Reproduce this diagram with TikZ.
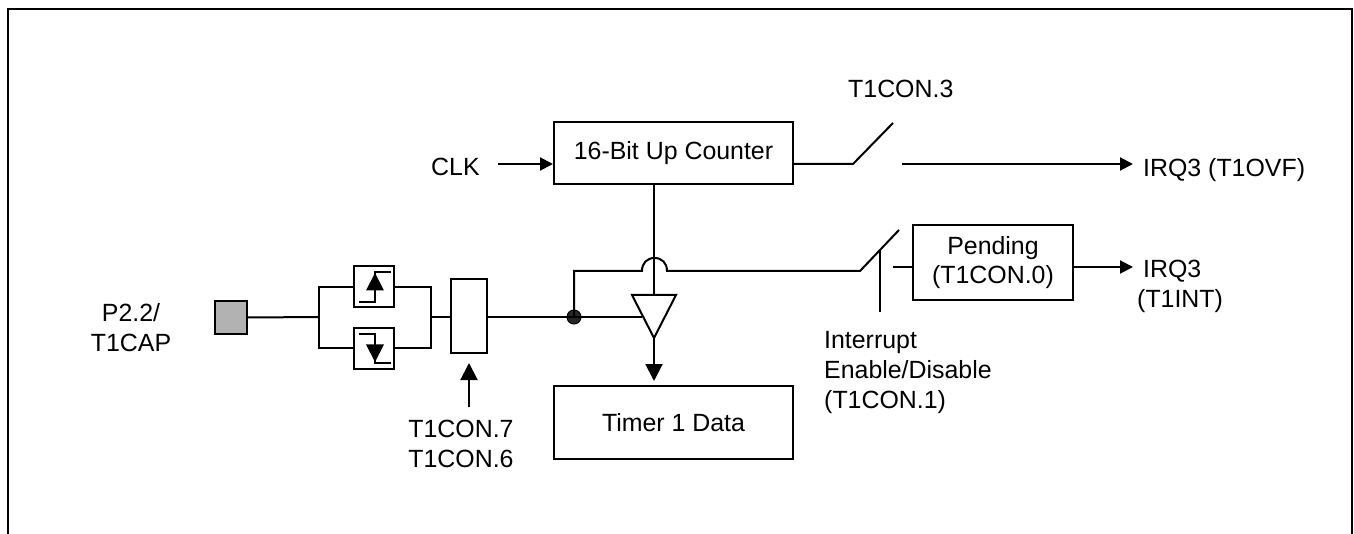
\documentclass[tikz,border=0pt]{standalone}
\usepackage{fontspec}
\setmainfont{Liberation Sans}
\usetikzlibrary{arrows.meta}
\tikzset{
  wire/.style={line width=2pt,line join=miter},
  arr/.style={wire,-{Triangle[length=13pt,width=13pt]}},
  bigarr/.style={wire,-{Triangle[length=17pt,width=17pt]}},
  blk/.style={draw,line width=2pt,inner sep=0pt,align=center,font=\fontsize{24.9}{29.5}\selectfont},
  lbl/.style={inner sep=0pt,align=center,font=\fontsize{24.9}{30}\selectfont},
  lbll/.style={lbl,align=left,anchor=base west},
}
\begin{document}
\begin{tikzpicture}[x=1pt,y=-1pt]
\useasboundingbox (0,0) rectangle (1354,534);
\fill[white] (0,0) rectangle (1354,534);
% frame
\draw[line width=2.6pt,line join=miter] (8,534) -- (8,9) -- (1352,9) -- (1352,534);
% nodes
\node[blk,fill={rgb,255:red,178;green,178;blue,178},minimum width=32pt,minimum height=33pt] (pad) at (231,317.5) {};
\node[blk,minimum width=40pt,minimum height=41pt] (rise) at (374,287) {};
\node[blk,minimum width=40pt,minimum height=41pt] (fall) at (374,348.5) {};
\node[blk,minimum width=36pt,minimum height=74pt] (mux) at (469,316) {};
\node[blk,minimum width=239pt,minimum height=62pt] (cnt) at (673.5,153) {16-Bit Up Counter};
\node[blk,minimum width=239pt,minimum height=73pt] (data) at (673.5,422.5) {\raisebox{-1pt}{Timer 1 Data}};
\node[blk,minimum width=160pt,minimum height=75pt] (pend) at (993,262.5) {\raisebox{-2pt}{Pending}\\\raisebox{-2pt}{(T1CON.0)}};
\node[circle,fill=black!85,draw=black,line width=1pt,minimum size=14pt,inner sep=0pt] (dot) at (574,317) {};
% labels
\node[lbl,anchor=base] (p22) at (131,352) {P2.2/\\T1CAP};
\node[lbl,anchor=base west] (clk) at (431,176) {CLK};
\node[lbl,anchor=base west] (t3) at (848,98) {T1CON.3};
\node[lbll] (ovf) at (1143,177) {IRQ3 (T1OVF)};
\node[lbll] (int) at (1137,308) {\hspace{6pt}IRQ3\\(T1INT)};
\node[lbll] (ied) at (824,408) {Interrupt\\Enable/Disable\\(T1CON.1)};
\node[lbl,anchor=base] (t76) at (461,467) {T1CON.7\\T1CON.6};
% coordinates
\coordinate (brL) at (319,317);
\coordinate (brR) at (431,317);
\coordinate (triL) at (632,295);
\coordinate (triR) at (676,295);
\coordinate (triB) at (654,338);
\coordinate (triT) at (654,295);
\coordinate (triE) at (654,381);
\coordinate (inT) at (642,317);
\coordinate (hopL) at (642,271);
\coordinate (hopR) at (667,271);
\coordinate (sw2a) at (860,271);
\coordinate (sw2b) at (899,230);
\coordinate (sw2c) at (880,250);
\coordinate (sw2d) at (880,312);
\coordinate (sw2e) at (893,267);
\coordinate (irqB) at (1133,267);
\coordinate (sw1a) at (853,164);
\coordinate (sw1b) at (893,123);
\coordinate (sw1c) at (902,164);
\coordinate (irqA) at (1133,164);
\coordinate (clkS) at (498,164);
\coordinate (t76S) at (469,407);
\coordinate (muxB) at (469,363);
% input side
\draw[wire] (pad.east) -- (brL);
\draw[wire] (rise.west) -- (319,287) -- (319,348.5) -- (fall.west);
\draw[wire] (rise.east) -- (431,287) -- (431,348.5) -- (fall.east);
\draw[wire] (brR) -- (mux.west|-brR);
\draw[wire] (mux.east|-brR) -- (dot.center) -- (inT);
\draw[bigarr] (t76S) -- (muxB);
% edge glyphs
\draw[line width=1.6pt] (359,302) -- (375,302) -- (375,272) -- (391,272);
\fill (366,290.5) -- (375,273) -- (384,290.5) -- cycle;
\draw[line width=1.6pt] (359,334) -- (375,334) -- (375,363) -- (391,363);
\fill (366,344.5) -- (375,362) -- (384,344.5) -- cycle;
% buffer and counter
\draw[wire] (cnt.south-|triT) -- (triT);
\draw[wire] (triL) -- (triR) -- (triB) -- cycle;
\draw[bigarr] (triB) -- (triE);
% capture feedback with hop
\draw[wire] (dot.center) -- (574,271) -- (hopL)
  .. controls (642,263) and (647,258) .. (654.5,258)
  .. controls (662,258) and (667,263) .. (hopR) -- (sw2a) -- (sw2b);
\draw[wire] (sw2c) -- (sw2d);
\draw[wire] (sw2e) -- (sw2e-|pend.west);
\draw[arr] (pend.east|-sw2e) -- (irqB);
% counter row
\draw[arr] (clkS) -- (cnt.west|-clkS);
\draw[wire] (cnt.east|-sw1a) -- (sw1a) -- (sw1b);
\draw[arr] (sw1c) -- (irqA);
\end{tikzpicture}
\end{document}
